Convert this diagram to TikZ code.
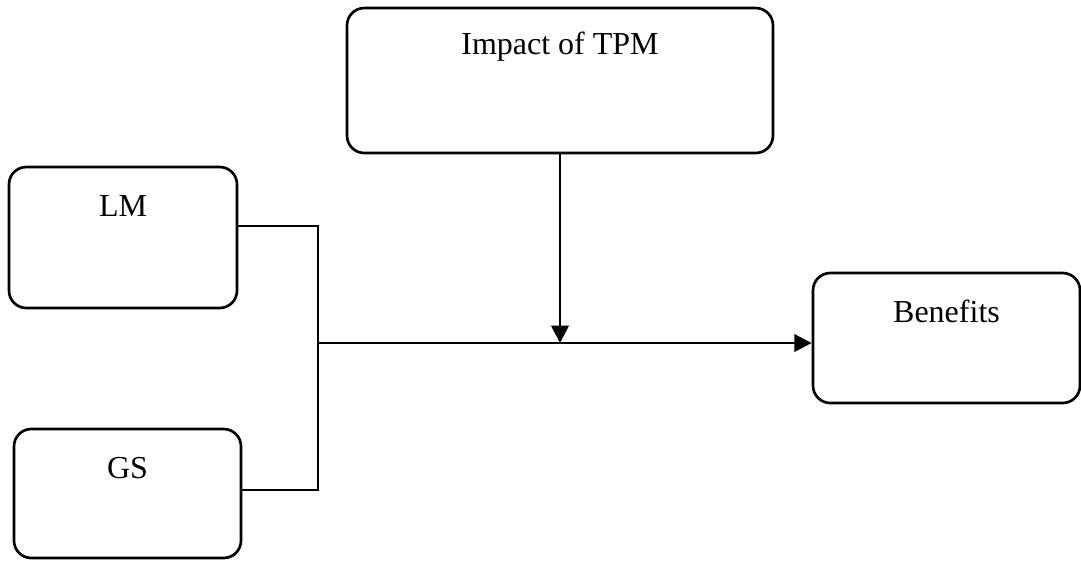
\documentclass[tikz,border=0pt]{standalone}
\usepackage{fontspec}
\setmainfont{Liberation Serif}
\usepackage{tikz}
\usetikzlibrary{arrows.meta, calc}
\tikzset{
    box/.style={draw, rounded corners=6.5pt, line width=1pt, inner sep=0pt},
    boxlabel/.style={anchor=center, yshift=-15pt, font=\fontsize{12}{14}\selectfont},
    link/.style={line width=1pt},
    arrowlink/.style={line width=1pt, -{Triangle[length=6.5pt, width=6.5pt]}}
}

\begin{document}
\begin{tikzpicture}[x=0.375pt, y=-0.375pt]
        \useasboundingbox (0,0) rectangle (1081,560);

        \node[box, minimum width=426*0.375pt, minimum height=145*0.375pt,
              label={[boxlabel]north:Impact of TPM}] (impact) at (560,80.5) {};
        \node[box, minimum width=228*0.375pt, minimum height=141*0.375pt,
              label={[boxlabel]north:LM}] (lm) at (123,237.5) {};
        \node[box, minimum width=227*0.375pt, minimum height=129*0.375pt,
              label={[boxlabel]north:GS}] (gs) at (127.5,493.5) {};
        \node[box, minimum width=267*0.375pt, minimum height=130*0.375pt,
              label={[boxlabel]north:Benefits}] (benefits) at (946.5,338) {};

        \coordinate (join) at (318,343);

        \draw[link] ([yshift=4.3pt]lm.east) -| (join) |- ([yshift=1.3pt]gs.east);
        \draw[arrowlink] (join) -- (join -| benefits.west);
        \draw[arrowlink] (impact.south) -- (impact.south |- join);
    \end{tikzpicture}
\end{document}
